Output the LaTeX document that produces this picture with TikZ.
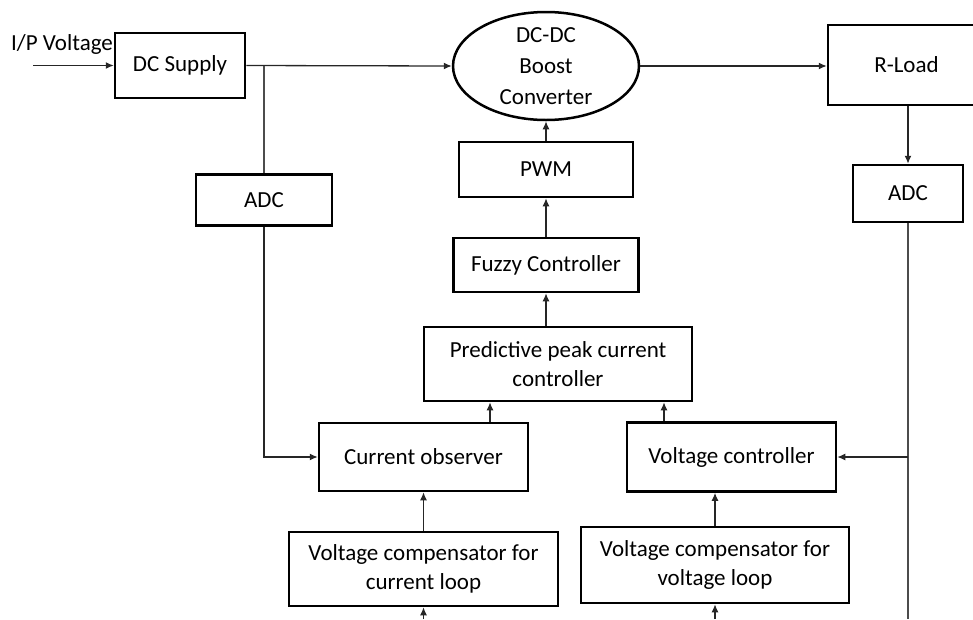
\documentclass[tikz,border=0pt]{standalone}
\usepackage{fontspec}
\setmainfont{Carlito}
\usetikzlibrary{positioning,calc,shapes.geometric,arrows.meta}

\begin{document}
\begin{tikzpicture}[
    x=1pt, y=-1pt,
    box/.style={rectangle, draw, line width=2.5pt, inner sep=0pt, align=center, font=\fontsize{23}{29}\selectfont},
    oval/.style={ellipse, draw, line width=2.5pt, inner sep=-5pt, align=center, font=\fontsize{23}{31}\selectfont},
    arrow/.style={->, >={Latex[length=8pt,width=7pt]}, line width=1.3pt, black!85},
    line/.style={line width=1.3pt, black!70},
]
\useasboundingbox (0,0) rectangle (973,619);
\clip (0,0) rectangle (973,619);

% forward path
\node[box, minimum width=130, minimum height=65] (dcs) at (180,65.5) {DC Supply};
\node[oval, minimum width=186, minimum height=108] (conv) at (546,66) {DC-DC\\Boost\\Converter};
\node[box, minimum width=157, minimum height=80] (rload) at (906.5,65) {R-Load};
\node[font=\fontsize{23}{29}\selectfont, inner sep=0pt] (ipv) at (62,44) {I/P Voltage};
\coordinate (ipin) at (33,65.5);

% sensing
\node[box, minimum width=136, minimum height=51] (adc1) at (264,200) {ADC};
\node[box, minimum width=110, minimum height=57] (adc2) at (908,193.5) {ADC};

% control chain
\node[box, minimum width=174, minimum height=55] (pwm) at (546,169.5) {PWM};
\node[box, minimum width=185, minimum height=54] (fuzzy) at (546,265) {Fuzzy Controller};
\node[box, minimum width=268, minimum height=74] (pred) at (558,364) {Predictive peak current\\controller};
\node[box, minimum width=209, minimum height=68] (cobs) at (423.5,457) {Current observer};
\node[box, minimum width=209, minimum height=69] (vctl) at (731.5,457) {Voltage controller};
\node[box, minimum width=269, minimum height=74] (vcc) at (423.5,569) {Voltage compensator for\\current loop};
\node[box, minimum width=268, minimum height=76] (vcv) at (715,565) {Voltage compensator for\\voltage loop};
\coordinate (vccin) at (423.5,619);
\coordinate (vcvin) at (715,619);
\coordinate (vout) at (908,619);

\draw[arrow] (ipin) -- (dcs.west |- ipin);
\draw[arrow] (dcs.east) -- (conv.west);
\draw[arrow] (conv.east) -- (rload.west |- conv.east);
\draw[line] (dcs.east -| adc1.north) -- (adc1.north);
\draw[arrow] (adc1.south) -- (adc1.south |- cobs.west) -- (cobs.west);
\draw[arrow] (adc2.north |- rload.south) -- (adc2.north);
\draw[line] (adc2.south) -- (vout);
\draw[arrow] (adc2.south |- vctl.east) -- (vctl.east);

\draw[arrow] (pwm.north) -- (conv.south);
\draw[arrow] (fuzzy.north) -- (pwm.south);
\draw[arrow] (fuzzy.south |- pred.north) -- (fuzzy.south);
\draw[arrow] ([xshift=66.5]cobs.north) -- ([xshift=66.5]cobs.north |- pred.south);
\draw[arrow] ([xshift=-67.5]vctl.north) -- ([xshift=-67.5]vctl.north |- pred.south);
\draw[arrow] (vcc.north) -- (cobs.south);
\draw[arrow] (vcv.north) -- (vcv.north |- vctl.south);
\draw[arrow] (vccin) -- (vcc.south);
\draw[arrow] (vcvin) -- (vcv.south);

\end{tikzpicture}
\end{document}
